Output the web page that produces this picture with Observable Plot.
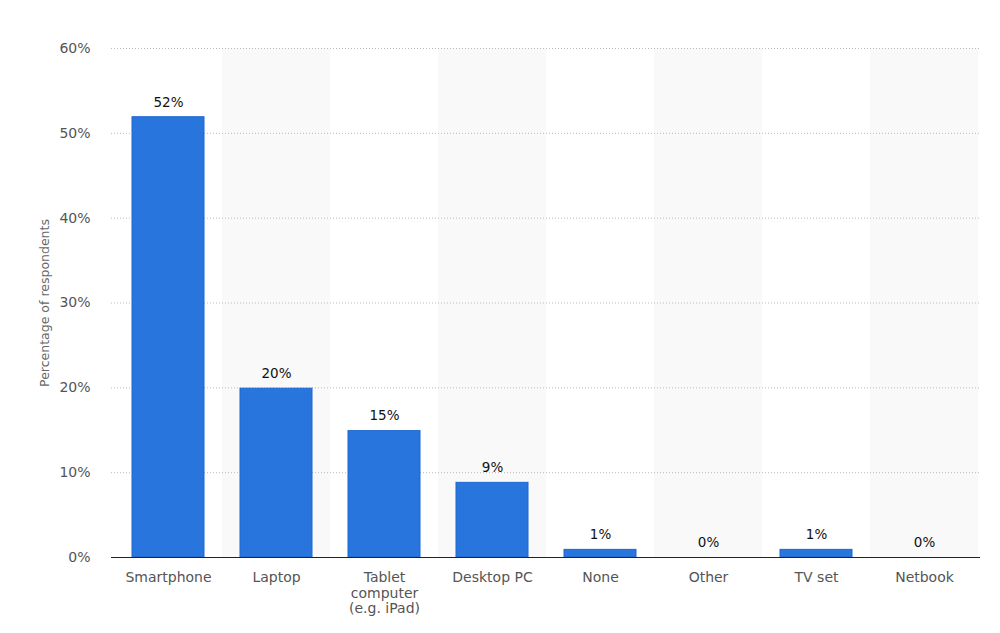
<!DOCTYPE html>
<html>
<head>
<meta charset="utf-8">
<script src="https://cdn.jsdelivr.net/npm/d3@7"></script>
<script src="https://cdn.jsdelivr.net/npm/@observablehq/plot@0.6"></script>
<style>
  html, body { margin: 0; padding: 0; background: #fff; }
  #chart svg { display: block; }
</style>
</head>
<body>
<div id="chart"></div>
<script>
const categories = ["Smartphone", "Laptop", "Tablet\ncomputer\n(e.g. iPad)", "Desktop PC", "None", "Other", "TV set", "Netbook"];
const values = [51.9, 19.9, 14.9, 8.8, 0.9, 0, 0.9, 0];
const valueLabels = ["52%", "20%", "15%", "9%", "1%", "0%", "1%", "0%"];
const yTicks = [0, 10, 20, 30, 40, 50, 60];

const data = categories.map((c, i) => ({category: c, value: values[i], label: valueLabels[i]}));
const shaded = categories.filter((c, i) => i % 2 === 1).map(c => ({category: c}));

const font = "'DejaVu Sans', 'Open Sans', sans-serif";

const chart = Plot.plot({
  width: 1000,
  height: 633,
  marginLeft: 111,
  marginRight: 20,
  marginTop: 48,
  marginBottom: 76,
  style: {fontFamily: font, fontSize: "13px", color: "#666", background: "#fff"},
  x: {domain: categories, padding: 0, label: null, tickSize: 0, tickPadding: 14},
  y: {domain: [0, 60], ticks: yTicks, tickFormat: d => d + "%", label: null, tickSize: 0, tickPadding: 21},
  marks: [
    Plot.barY(shaded, {x: "category", y1: 0, y2: 60, fill: "#f9f9f9"}),
    Plot.gridY(yTicks, {stroke: "#bbb", strokeOpacity: 1, strokeDasharray: "1,2"}),
    Plot.barY(data.filter(d => d.value > 0), {x: "category", y: "value", fill: "#2876dd", stroke: "#1d67cf", strokeWidth: 1, insetLeft: 18, insetRight: 18}),
    Plot.ruleY([0], {stroke: "#222", strokeWidth: 1}),
    Plot.text(data, {x: "category", y: "value", text: "label", dy: -15, fill: "#111", fontSize: 13.5, fontWeight: 500}),
    Plot.axisX({tickSize: 0, tickPadding: 14, fontSize: 14, fill: "#555", lineHeight: 1.1}),
    Plot.axisY({ticks: yTicks, tickFormat: d => d + "%", tickSize: 0, tickPadding: 21, fontSize: 14, fill: "#555", label: null}),
    Plot.text(["Percentage of respondents"], {frameAnchor: "left", textAnchor: "middle", dx: -67, rotate: -90, fill: "#666", fontSize: 12.5})
  ]
});
document.getElementById("chart").appendChild(chart);
</script>
</body>
</html>
